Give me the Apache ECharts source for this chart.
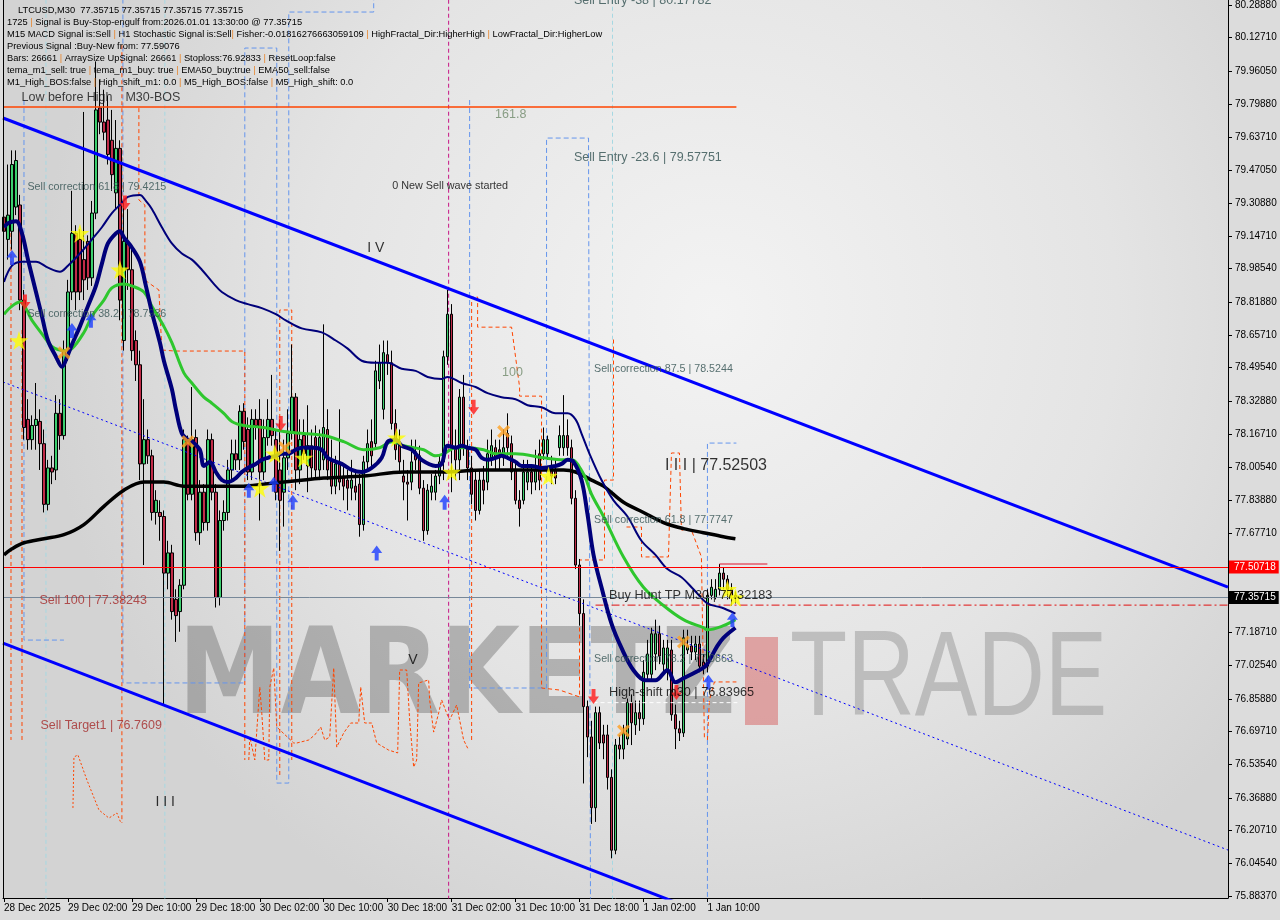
<!DOCTYPE html>
<html><head><meta charset="utf-8">
<script src="https://cdn.jsdelivr.net/npm/echarts@6/dist/echarts.min.js"></script>
<style>html,body{margin:0;padding:0;background:#dcdcdc;}#c{width:1280px;height:920px;}</style>
</head><body><div id="c"></div>
<script>
// ---------------- DATA ----------------
const yTicks = [80.2888,80.1271,79.9605,79.7988,79.6371,79.4705,79.3088,79.1471,78.9854,78.8188,78.6571,78.4954,78.3288,78.1671,78.0054,77.8388,77.6771,77.1871,77.0254,76.8588,76.6971,76.5354,76.3688,76.2071,76.0454,75.8837];
const xLabelBars = [0,16,32,48,64,80,96,112,128,144,160,176];
const xLabels = ['28 Dec 2025','29 Dec 02:00','29 Dec 10:00','29 Dec 18:00','30 Dec 02:00','30 Dec 10:00','30 Dec 18:00','31 Dec 02:00','31 Dec 10:00','31 Dec 18:00','1 Jan 02:00','1 Jan 10:00'];

// candles: [open, close, low, high], one per M30 bar from 28 Dec 18:00
const candles = [
[79.24,79.17,78.83,79.37],[79.13,79.25,79.03,79.50],[79.17,79.50,79.08,79.57],[79.29,79.52,79.25,79.57],[79.30,78.83,78.78,79.35],
[78.83,78.20,78.14,78.88],[78.24,78.14,78.09,78.34],[78.14,78.21,78.09,78.26],[78.21,78.24,78.09,78.42],[78.23,78.12,77.99,78.29],
[78.12,77.82,77.78,78.19],[77.82,78.00,77.79,78.04],[78.00,77.98,77.92,78.06],[77.99,78.27,77.94,78.36],[78.27,78.16,78.09,78.34],
[78.16,78.58,78.14,78.63],[78.58,78.87,78.53,78.93],[78.87,79.16,78.83,79.37],[79.16,78.87,78.78,79.20],[79.13,78.87,78.83,79.18],
[79.03,78.93,78.83,79.76],[79.12,78.94,78.88,79.15],[78.94,79.26,78.90,79.32],[79.26,79.77,79.23,80.01],[79.78,79.71,79.65,79.92],
[79.71,79.66,79.62,79.87],[79.72,79.55,79.50,79.84],[79.62,79.45,79.37,79.77],[79.36,79.58,79.28,79.72],[79.58,78.83,78.73,79.62],
[78.63,79.12,78.58,79.32],[79.11,78.98,78.88,79.28],[78.98,78.58,78.53,79.08],[78.63,78.51,78.43,78.68],[78.51,78.02,77.94,78.58],
[78.02,78.14,77.52,78.34],[78.14,78.06,78.02,78.19],[78.06,77.78,77.74,78.09],[77.78,77.84,77.72,77.89],[77.78,77.76,77.64,77.84],
[77.76,77.48,76.83,77.79],[77.48,77.58,77.40,77.64],[77.58,77.29,77.25,77.62],[77.35,77.27,77.14,77.40],[77.29,77.42,77.19,77.45],
[77.42,78.14,77.40,78.19],[78.14,77.87,77.84,78.16],[77.87,78.14,77.84,78.40],[78.15,77.68,77.64,78.19],[77.68,77.88,77.62,77.94],
[77.88,77.73,77.69,77.92],[77.73,78.14,77.69,78.19],[78.14,77.88,77.84,78.17],[77.88,77.36,77.31,77.92],[77.36,77.74,77.32,77.79],
[77.74,77.78,77.69,77.84],[77.78,77.99,77.74,78.04],[77.99,78.07,77.94,78.14],[78.07,78.04,77.99,78.14],[78.04,78.28,77.99,78.31],
[78.28,78.13,78.09,78.32],[78.19,77.98,77.94,78.25],[77.98,78.24,77.94,78.29],[78.24,78.21,78.14,78.29],[78.24,77.98,77.74,78.34],
[77.98,78.15,77.94,78.24],[78.15,78.24,78.11,78.34],[78.24,78.16,78.11,78.46],[78.14,77.88,77.84,78.19],[77.99,77.84,77.59,78.24],
[77.88,78.05,77.71,78.14],[78.05,78.17,77.99,78.29],[78.17,78.35,78.14,78.61],[78.35,77.99,77.89,78.37],[77.99,78.14,77.92,78.24],
[78.16,78.07,78.04,78.24],[78.01,78.11,77.88,78.31],[78.11,78.00,77.94,78.19],[78.15,77.99,77.95,78.21],[77.99,78.15,77.94,78.19],
[78.04,78.20,77.99,78.71],[78.19,77.99,77.94,78.29],[78.04,77.91,77.87,78.14],[77.91,78.02,77.87,78.06],[78.02,77.93,77.89,78.29],
[77.96,77.91,77.84,78.01],[77.94,77.90,77.79,77.99],[77.90,77.94,77.84,78.04],[77.91,77.88,77.84,77.99],[77.92,77.72,77.66,77.97],
[77.72,78.03,77.69,78.06],[78.03,78.12,77.99,78.19],[78.13,78.06,77.99,78.24],[78.12,78.48,78.09,78.53],[78.43,78.52,78.39,78.61],
[78.29,78.57,78.24,78.63],[78.56,78.52,78.46,78.63],[78.52,78.22,78.19,78.58],[78.22,78.09,78.04,78.29],[78.12,78.03,77.97,78.19],
[77.96,77.93,77.84,78.04],[77.93,77.92,77.74,77.99],[77.93,78.03,77.89,78.14],[78.08,78.04,77.99,78.14],[78.06,77.90,77.87,78.11],
[77.90,77.69,77.64,77.94],[77.69,77.89,77.67,77.92],[77.88,77.91,77.84,77.97],[77.88,77.96,77.84,77.99],[77.96,78.03,77.92,78.06],
[78.03,78.55,77.94,78.58],[78.55,78.76,78.51,78.88],[78.76,78.10,77.88,78.81],[78.10,78.04,77.94,78.19],[78.04,78.35,77.94,78.39],
[78.35,78.10,78.06,78.46],[78.10,78.00,77.94,78.14],[78.00,77.87,77.82,78.06],[77.94,77.79,77.74,77.99],[77.79,77.94,77.77,77.99],
[77.94,77.89,77.82,78.01],[77.93,78.07,77.89,78.14],[78.05,78.11,78.01,78.19],[78.10,78.05,77.99,78.14],[78.09,78.05,77.99,78.14],
[78.05,78.10,78.01,78.19],[78.17,78.10,78.06,78.27],[78.12,77.98,77.94,78.16],[77.99,77.84,77.82,78.04],[77.84,77.80,77.71,77.89],
[77.84,77.98,77.82,78.04],[77.93,77.98,77.89,78.04],[77.98,77.93,77.87,78.01],[77.93,77.99,77.89,78.09],[78.07,77.94,77.89,78.14],
[78.07,78.14,78.04,78.20],[78.07,78.14,78.04,78.16],[78.00,77.96,77.92,78.06],[77.99,77.95,77.92,78.04],[78.10,78.16,78.06,78.21],
[78.10,78.16,78.06,78.36],[78.16,78.10,78.06,78.24],[78.10,77.85,77.82,78.14],[77.85,77.52,77.50,77.89],[77.52,77.28,77.22,77.55],
[77.28,76.82,76.44,77.35],[76.82,76.67,76.57,76.85],[76.67,76.32,76.24,76.75],[76.32,76.79,76.25,76.82],[76.79,76.64,76.61,76.82],
[76.68,76.64,76.56,76.73],[76.68,76.47,76.41,76.73],[76.47,76.11,76.07,76.51],[76.11,76.63,76.09,76.66],[76.63,76.61,76.56,76.68],
[76.61,76.69,76.56,76.73],[76.66,76.84,76.63,76.86],[76.84,76.74,76.63,76.88],[76.73,76.79,76.68,76.85],[76.79,76.76,76.70,76.85],
[76.76,76.99,76.73,77.05],[76.98,77.08,76.95,77.15],[76.98,77.18,76.95,77.21],[77.08,77.18,77.00,77.25],[77.18,77.07,77.03,77.22],
[77.03,77.11,76.98,77.15],[76.99,77.11,76.95,77.15],[77.10,76.78,76.75,77.15],[76.78,76.71,76.61,76.83],[76.71,76.69,76.65,76.75],
[76.69,77.16,76.67,77.20],[77.10,77.12,77.08,77.20],[77.12,77.09,77.05,77.17],[77.09,77.13,77.05,77.17],[77.13,77.02,76.99,77.17],
[77.04,77.02,76.98,77.08],[77.02,77.37,76.99,77.40],[77.37,77.41,77.35,77.45],[77.36,77.40,77.35,77.45],[77.40,77.48,77.37,77.525],
[77.48,77.45,77.40,77.507],[77.45,77.40,77.35,77.47],[77.40,77.37,77.32,77.43],[77.37,77.35715,77.33,77.39]
];

// indicator lines: [bar, price]
const emaBlack = [[0,77.57],[2,77.60],[5,77.63],[10,77.65],[15,77.67],[20,77.72],[25,77.81],[30,77.89],[35,77.93],[40,77.93],[45,77.91],[55,77.91],[60,77.91],[65,77.92],[70,77.93],[75,77.94],[80,77.95],[90,77.96],[100,77.98],[110,77.98],[120,77.99],[130,77.99],[140,77.99],[143,77.98],[147,77.94],[150,77.91],[155,77.83],[160,77.78],[165,77.73],[170,77.70],[175,77.68],[180,77.66],[183,77.65]];
const emaGreen = [[0,78.76],[2,78.80],[4,78.82],[7,78.73],[10,78.65],[12,78.60],[15,78.58],[17,78.59],[20,78.67],[22,78.75],[25,78.83],[27,78.89],[30,78.91],[32,78.90],[35,78.87],[37,78.80],[40,78.70],[42,78.62],[45,78.47],[47,78.42],[50,78.35],[52,78.32],[55,78.27],[57,78.23],[60,78.21],[65,78.20],[70,78.18],[75,78.17],[80,78.16],[85,78.13],[90,78.09],[94,78.10],[97,78.13],[100,78.11],[105,78.09],[108,78.06],[110,78.07],[113,78.10],[116,78.10],[120,78.09],[123,78.07],[128,78.07],[135,78.05],[140,78.04],[142,78.04],[145,77.97],[147,77.87],[150,77.76],[155,77.56],[160,77.41],[165,77.32],[170,77.25],[175,77.21],[176,77.20],[180,77.22],[183,77.25]];
const temaFast = [[0,79.19],[1,79.21],[3,79.22],[4.5,79.16],[6,79.03],[8,78.87],[9.5,78.75],[11,78.63],[13,78.55],[14.5,78.50],[16,78.56],[17,78.61],[19,78.70],[21,78.80],[23,78.90],[24.5,79.01],[26,79.11],[28,79.16],[29,79.17],[30,79.14],[32,79.09],[34,79.02],[35.5,78.90],[37,78.77],[39,78.62],[40,78.53],[42,78.39],[43,78.29],[44.5,78.17],[46,78.14],[47,78.13],[49,78.09],[50,78.01],[51.5,78.03],[53,77.98],[54.5,77.94],[56,77.93],[58,77.95],[59.5,77.98],[61,78.00],[63,78.02],[64.5,78.04],[66,78.05],[68,78.06],[69.5,78.07],[71,78.07],[73,78.09],[74.5,78.10],[77.5,78.10],[79.5,78.09],[81,78.05],[84.5,78.02],[87,77.99],[89.5,77.98],[92,78.00],[94.5,78.05],[96,78.13],[98,78.14],[99.5,78.11],[102,78.09],[104.5,78.04],[108,78.01],[109.5,78.02],[111,78.11],[113,78.10],[114.5,78.11],[116,78.10],[118,78.09],[119.5,78.05],[121,78.04],[123,78.05],[124.5,78.06],[126,78.05],[128,78.03],[129.5,78.01],[132,78.01],[134.5,78.00],[138,78.01],[139.5,78.02],[141,78.04],[142.5,78.03],[144.5,77.94],[146,77.77],[147.5,77.57],[149.5,77.41],[152,77.23],[154.5,77.11],[157.5,77.00],[160.5,76.95],[163,76.95],[166,77.00],[168,76.94],[170,76.96],[173,76.99],[175.5,77.02],[176.5,77.05],[178.5,77.12],[180,77.16],[183,77.21]];
const maSlow = [[0,78.92],[2,79.00],[4.5,79.02],[8,79.02],[11,78.99],[14,78.97],[16,79.00],[19,79.06],[22,79.13],[24.5,79.19],[27,79.26],[29.5,79.31],[31,79.34],[34,79.35],[35.5,79.32],[37,79.28],[39.5,79.19],[42,79.11],[44.5,79.06],[47,79.03],[49.5,78.98],[52.5,78.91],[54.5,78.87],[58,78.83],[61,78.81],[64.5,78.79],[68,78.76],[70.5,78.73],[74.5,78.69],[79.5,78.67],[83,78.63],[86,78.59],[89.5,78.53],[93,78.52],[96,78.52],[99.5,78.49],[103,78.48],[106,78.45],[109.5,78.44],[111,78.45],[114.5,78.42],[118,78.40],[121,78.37],[124.5,78.35],[128,78.34],[131,78.31],[134.5,78.30],[138,78.27],[141,78.27],[143,78.24],[144.5,78.17],[146.5,78.07],[149.5,77.94],[152.5,77.84],[156,77.76],[159.5,77.64],[163,77.57],[166,77.50],[169.5,77.46],[172.5,77.40],[176,77.33],[179.5,77.31],[183,77.28]];

// channel (trend lines)
const chanUpper = [[-0.25,79.730],[306.25,77.411]];
const chanMid   = [[-0.25,78.425],[306.25,76.111]];
const chanLower = [[-0.25,77.134],[306.25,74.800]];

// horizontal levels
const fib1618 = 79.785, lastBarIdx = 183;
const redLevel = 77.50718, bidLevel = 77.35715, buyHuntTP = 77.32183, highShift = 76.83965, wave3Level = 77.52503;

// vertical separators (bars)
const magentaV = [111.25];
const cyanV = [10.5, 40.25, 152.25];

// dashed boxes / step lines [bar, price]
const blueBoxes = [
 [[5,79.819],[5,77.149],[15,77.149]],
 [[29.75,80.40],[29.75,76.937],[60.25,76.937],[60.25,80.076],[68.25,80.076],[68.25,76.442],[71.25,76.442],[71.25,80.254],[92.5,80.254],[92.5,80.40]],
 [[116.5,79.819],[116.5,76.912],[135.75,76.912],[135.75,79.631],[146.25,79.631],[146.75,75.80]],
 [[176,75.80],[176,78.123],[183.25,78.123]]
];
const orangeSteps = [
 [[1.75,79.30],[1.75,76.655]],
 [[4.5,78.682],[4.5,76.655]],
 [[29.5,80.09],[29.5,76.245]],
 [[33.75,79.779],[33.75,79.325],[35.25,79.30],[35.25,78.929],[37,78.904],[38.75,78.880],[39.5,78.583],[42.75,78.578],[60.25,78.578],[60.25,76.556]],
 [[69,76.482],[69,78.781],[72,78.781],[72,76.556]],
 [[117,76.655],[117,78.845],[118.5,78.845],[118.5,78.696],[127,78.696],[129,78.400],[129,78.355],[134.5,78.355],[134.5,76.912],[139,76.902],[144,76.868],[144,77.545],[150.25,77.545],[150.25,77.940],[152.5,77.940],[152.5,78.642]],
 [[155.75,77.708],[159.5,77.708],[159.5,77.560],[166.25,77.560],[167,78.074],[169,78.074],[169.5,77.693],[172,77.693],[174.5,77.560],[175.25,76.655]],
 [[176,76.655],[176.5,76.853],[177.75,76.942],[183.25,76.942]]
];
const orangeSquiggle = [[61.25,76.556],[61.5,76.670],[62.75,76.556],[64,76.917],[64.5,76.788],[65.25,76.556],[66.25,76.556],[66.5,76.917],[67.5,77.011],[68.25,76.719],[72.5,76.640],[73.25,76.640],[76.25,76.655],[77.75,76.680],[79.25,76.719],[80.25,76.655],[81.5,76.670],[82.5,77.011],[83.25,76.620],[85,76.690],[86.75,76.739],[88.75,76.739],[89.25,76.917],[90.25,76.739],[92,76.739],[93.25,76.640],[96.25,76.605],[98.5,76.591],[99,77.001],[100.75,77.001],[101.5,76.754],[102.5,76.521],[103.25,76.556],[103.75,76.937],[106.25,76.952],[106.5,76.853],[107.5,76.694],[108.75,76.788],[109.5,76.853],[110.75,76.788],[111.5,76.754],[113.25,76.828],[115,76.655],[116.25,76.605]];
const orangeTail = [[17.25,76.319],[17.5,76.571],[18.5,76.581],[20.75,76.457],[23.75,76.309],[26.25,76.269],[28.25,76.294],[29.25,76.245]];

// signal markers [bar, price]
const stars = [[3.75,78.63],[19,79.16],[29,78.98],[64,77.90],[67.75,78.07],[75,78.05],[98.25,78.15],[112,77.98],[136.25,77.96],[181,77.40],[183,77.36]];
const crosses = [[15,78.57],[46,78.13],[70.25,78.10],[125,78.18],[170,77.14],[155,76.70]];
const upArrows = [[2,79.04],[17,78.68],[21.75,78.73],[61.25,77.89],[67.5,77.92],[72.25,77.83],[93.25,77.58],[110.25,77.83],[182.25,77.25],[176.25,76.94]];
const downArrows = [[5.25,78.82],[30.25,79.31],[69.25,78.22],[117.5,78.30],[147.5,76.87],[168.25,76.89]];

// chart text annotations: [text, bar, price, kind]
const annotations = [
 ['Low before High',4.25,79.83,'big'],
 ['M30-BOS',30.25,79.83,'big'],
 ['161.8',122.75,79.745,'fib'],
 ['Sell Entry -23.6 | 79.57751',142.5,79.537,'entry'],
 ['0 New Sell wave started',97,79.394,'small'],
 ['Sell correction 61.8 | 79.4215',5.75,79.389,'corr'],
 ['I V',90.75,79.087,'wave'],
 ['Sell correction 38.2 | 78.7936',5.75,78.761,'corr'],
 ['100',124.5,78.474,'fib'],
 ['Sell correction 87.5 | 78.5244',147.5,78.489,'corr'],
 ['I I I | 77.52503',165.25,78.014,'wave16'],
 ['Sell correction 61.8 | 77.7747',147.5,77.743,'corr'],
 ['Buy Hunt TP M30 | 77.32183',151.25,77.367,'black'],
 ['Sell 100 | 77.38243',8.75,77.342,'sell'],
 ['Sell correction 78.2 | 77.0863',147.5,77.055,'corr'],
 ['V',101,77.05,'wave'],
 ['High-shift m30 | 76.83965',151.25,76.892,'black'],
 ['Sell Target1 | 76.7609',9,76.724,'sell'],
 ['I I I',37.75,76.348,'wave'],
 ['Sell Entry -38 | 80.17782',142.5,80.311,'entry']
];

const infoLines = [
 'LTCUSD,M30  77.35715 77.35715 77.35715 77.35715',
 '1725 | Signal is Buy-Stop-engulf from:2026.01.01 13:30:00 @ 77.35715',
 'M15 MACD Signal is:Sell | H1 Stochastic Signal is:Sell| Fisher:-0.01816276663059109 | HighFractal_Dir:HigherHigh | LowFractal_Dir:HigherLow',
 'Previous Signal :Buy-New from: 77.59076',
 'Bars: 26661 | ArraySize UpSignal: 26661 | Stoploss:76.92833 | ResetLoop:false',
 'tema_m1_sell: true | tema_m1_buy: true | EMA50_buy:true | EMA50_sell:false',
 'M1_High_BOS:false | High_shift_m1: 0.0 | M5_High_BOS:false | M5_High_shift: 0.0'
];

// ---------------- CHART ----------------
const FONT = "'Liberation Sans', Arial, sans-serif";
const Y_MIN = 75.8738, Y_MAX = 80.3135, X_MIN = -0.25, X_MAX = 306.25;
const chart = echarts.init(document.getElementById('c'), null, {renderer: 'canvas'});

const STAR = 'path://M50,0 L61,35 L98,35 L68,57 L79,91 L50,70 L21,91 L32,57 L2,35 L39,35 Z';
const CROSS = 'path://M0,18 L18,0 L50,32 L82,0 L100,18 L68,50 L100,82 L82,100 L50,68 L18,100 L0,82 L32,50 Z';
const UP = 'path://M50,0 L100,50 L68,50 L68,100 L32,100 L32,50 L0,50 Z';

function line(data, style, extra) {
  return Object.assign({type: 'line', data: data, symbol: 'none', silent: true, clip: true, lineStyle: style, z: 3}, extra || {});
}
const full = b => [[b, 75.0], [b, 81.0]];

const annStyle = {
  big: {fontSize: 12.5, color: '#111'},
  fib: {fontSize: 12.5, color: '#6f8a6a'},
  entry: {fontSize: 12.5, color: '#2f4f4f'},
  small: {fontSize: 10.8, color: '#000'},
  corr: {fontSize: 10.7, color: '#2f4f4f'},
  wave: {fontSize: 14, color: '#000'},
  wave16: {fontSize: 16, color: '#000'},
  black: {fontSize: 12.7, color: '#000'},
  sell: {fontSize: 12.5, color: '#a52a2a'}
};

const series = [];
series.push(line(chanUpper, {color: '#0000ff', width: 3}));
series.push(line(chanLower, {color: '#0000ff', width: 3}));
series.push(line(chanMid, {color: '#0000ff', width: 1, type: [2, 3]}));
magentaV.forEach(b => series.push(line(full(b), {color: '#c71585', width: 1, type: [4, 3]}, {z: 1})));
cyanV.forEach(b => series.push(line(full(b), {color: '#a6d8e2', width: 1, type: [4, 3]}, {z: 1})));
blueBoxes.forEach(d => series.push(line(d, {color: '#6495ed', width: 1, type: [5, 3]}, {z: 1})));
orangeSteps.forEach(d => series.push(line(d, {color: '#ff4500', width: 1, type: [4, 3]}, {z: 1})));
series.push(line(orangeSquiggle, {color: '#ff4500', width: 1, type: [3, 2]}, {z: 1}));
series.push(line(orangeTail, {color: '#ff4500', width: 1, type: [2, 2]}, {z: 1}));
series.push(line([[X_MIN, fib1618], [lastBarIdx + 0.25, fib1618]], {color: '#ff4500', width: 1.5}));
series.push(line([[148, buyHuntTP], [X_MAX, buyHuntTP]], {color: '#e01010', width: 1, type: [8, 3, 2, 3]}));
series.push(line([[147.5, highShift], [lastBarIdx + 0.5, highShift]], {color: '#ffffff', width: 1, type: [4, 3]}));
series.push(line([[179, wave3Level], [191, wave3Level]], {color: '#e0102a', width: 1}));

series.push({
  type: 'candlestick',
  data: candles.map((c, i) => [i, c[0], c[1], c[2], c[3]]),
  encode: {x: 0, y: [1, 2, 3, 4]},
  barWidth: 3,
  silent: true,
  z: 2,
  itemStyle: {color: '#3ccf6e', color0: '#c02b48', borderColor: '#000', borderColor0: '#000', borderWidth: 1},
  markLine: {
    silent: true, symbol: 'none', animation: false,
    data: [
      {yAxis: redLevel, lineStyle: {color: '#ff0000', width: 1, type: 'solid'},
       label: {show: true, position: 'end', distance: 1, formatter: redLevel.toFixed(5), color: '#fff', backgroundColor: '#ff0000', padding: [2, 3, 1, 5], fontSize: 10, fontFamily: FONT}},
      {yAxis: bidLevel, lineStyle: {color: '#778899', width: 1, type: 'solid'},
       label: {show: true, position: 'end', distance: 1, formatter: bidLevel.toFixed(5), color: '#fff', backgroundColor: '#000', padding: [2, 3, 1, 5], fontSize: 10, fontFamily: FONT}}
    ]
  }
});
series.push(line(emaBlack, {color: '#000', width: 3.5}, {smooth: 0.35, z: 4}));
series.push(line(maSlow, {color: '#00007a', width: 2}, {smooth: 0.35, z: 4}));
series.push(line(emaGreen, {color: '#2ec72e', width: 3}, {smooth: 0.35, z: 4}));
series.push(line(temaFast, {color: '#00007a', width: 4}, {smooth: 0.35, z: 4}));
series.push({type: 'scatter', data: stars, symbol: STAR, symbolSize: 19, itemStyle: {color: '#ffff00'}, silent: true, z: 6});
series.push({type: 'scatter', data: crosses, symbol: CROSS, symbolSize: 13, itemStyle: {color: '#ffa020'}, silent: true, z: 6});
series.push({type: 'scatter', data: upArrows, symbol: UP, symbolSize: [11, 15], itemStyle: {color: '#1a3cff'}, silent: true, z: 6});
series.push({type: 'scatter', data: downArrows, symbol: UP, symbolRotate: 180, symbolSize: [11, 15], itemStyle: {color: '#ff1a1a'}, silent: true, z: 6});
series.push({
  type: 'scatter', silent: true, z: 7, symbolSize: 1, itemStyle: {color: 'rgba(0,0,0,0)'}, clip: false,
  data: annotations.map(a => ({
    value: [a[1], a[2]],
    label: Object.assign({show: true, position: 'right', distance: 0, formatter: a[0], fontFamily: FONT}, annStyle[a[3]])
  }))
});

const infoGraphics = infoLines.map((t, i) => ({
  type: 'text', x: i === 0 ? 18 : 7, y: 10 + i * 12, z: 10,
  style: {
    text: t.replace(/\|/g, '{p||}'),
    font: '9.3px ' + FONT, fill: '#000', textVerticalAlign: 'middle',
    rich: {p: {fill: '#e8852a', font: '9.3px ' + FONT}}
  }
}));

const option = {
  animation: false,
  backgroundColor: '#dcdcdc',
  grid: {left: 3, right: 52, top: 0, bottom: 22, containLabel: false},
  xAxis: {
    type: 'value', min: X_MIN, max: X_MAX, position: 'bottom',
    axisLine: {show: true, onZero: false, lineStyle: {color: '#000', width: 1}},
    axisTick: {show: true, customValues: xLabelBars, length: 4, lineStyle: {color: '#000'}},
    axisLabel: {show: true, customValues: xLabelBars, align: 'left', margin: 5, color: '#000', fontSize: 10, fontFamily: FONT,
      formatter: v => xLabels[xLabelBars.indexOf(Math.round(v))] || ''},
    splitLine: {show: false}
  },
  yAxis: {
    type: 'value', min: Y_MIN, max: Y_MAX, position: 'right',
    axisLine: {show: true, onZero: false, lineStyle: {color: '#000', width: 1}},
    axisTick: {show: true, inside: false, customValues: yTicks, length: 4, lineStyle: {color: '#000'}},
    axisLabel: {show: true, customValues: yTicks, margin: 7, color: '#000', fontSize: 10, fontFamily: FONT,
      formatter: v => v.toFixed(5)},
    splitLine: {show: false}
  },
  graphic: [
    {type: 'rect', z: -20, shape: {x: 3, y: 0, width: 1225, height: 898},
     style: {fill: {type: 'radial', x: 0.58, y: 0.35, r: 0.75,
       colorStops: [{offset: 0, color: '#f3f3f3'}, {offset: 0.6, color: '#e4e4e4'}, {offset: 1, color: '#d3d3d3'}]}}},
    {type: 'line', z: 20, shape: {x1: 3.5, y1: 0, x2: 3.5, y2: 898}, style: {stroke: '#000', lineWidth: 1}},
    {type: 'text', z: -5, x: 178, y: 682, scaleX: 0.86,
     style: {text: 'MARKETZ', font: 'bold 120px "DejaVu Sans"', fill: 'rgba(105,105,105,0.42)', textVerticalAlign: 'middle'}},
    {type: 'rect', z: -5, shape: {x: 745, y: 637, width: 33, height: 88}, style: {fill: 'rgba(215,105,105,0.55)'}},
    {type: 'text', z: -5, x: 790, y: 682, scaleX: 0.78,
     style: {text: 'TRADE', font: '120px ' + FONT, fill: 'rgba(150,150,150,0.50)', textVerticalAlign: 'middle'}}
  ].concat(infoGraphics),
  series: series
};
chart.setOption(option);
</script>
</body></html>
